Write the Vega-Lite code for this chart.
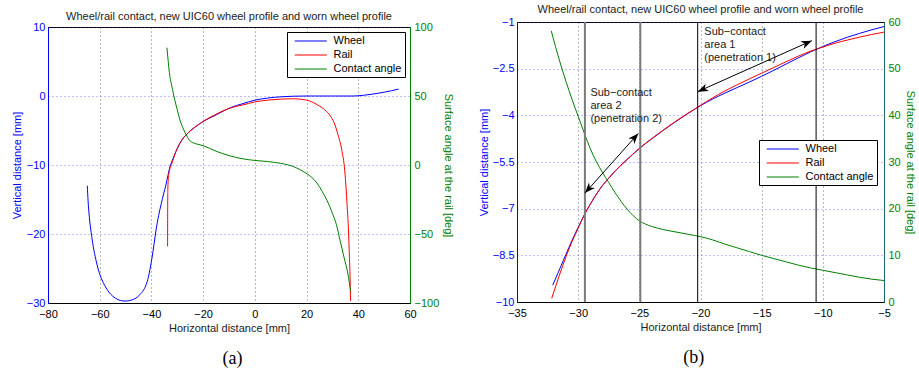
{
  "$schema": "https://vega.github.io/schema/vega-lite/v6.json",
  "background": "white",
  "padding": {"left": 10, "top": 3, "right": 0, "bottom": 0},
  "spacing": 22,
  "config": {
    "font": "Liberation Sans",
    "view": {"stroke": "#000000", "strokeWidth": 1},
    "axis": {"labelFont": "Liberation Sans", "titleFont": "Liberation Sans", "labelFontSize": 11, "titleFontSize": 11, "titleFontWeight": "normal", "ticks": false, "labelPadding": 3, "gridDash": [1, 3], "gridWidth": 1, "domainWidth": 1, "labelFlush": false, "labelBound": false, "labelOverlap": false, "labelExpr": "format(datum.value, '~r')"},
    "title": {"font": "Liberation Sans", "fontSize": 11, "fontWeight": "normal", "color": "#222222"},
    "legend": {"orient": "none", "strokeColor": "#000000", "fillColor": "#ffffff", "padding": 3, "symbolType": "M-0.24,0H5.87", "symbolSize": 110, "symbolStrokeWidth": 1, "labelFont": "Liberation Sans", "labelFontSize": 11, "labelColor": "#000000", "labelOffset": 31.5, "rowPadding": 3, "zindex": 1}
  },
  "resolve": {"scale": {"color": "independent"}, "legend": {"color": "independent"}},
  "datasets": {
    "a_prof": [
      {"series": "Wheel", "x": -64.8, "y": -13}, {"series": "Wheel", "x": -64.5, "y": -15.2}, {"series": "Wheel", "x": -64, "y": -17.6}, {"series": "Wheel", "x": -63.3, "y": -19.8}, {"series": "Wheel", "x": -62.5, "y": -21.8}, {"series": "Wheel", "x": -61.5, "y": -23.7}, {"series": "Wheel", "x": -60.5, "y": -25.2}, {"series": "Wheel", "x": -59.3, "y": -26.5}, {"series": "Wheel", "x": -58, "y": -27.5}, {"series": "Wheel", "x": -56.5, "y": -28.4}, {"series": "Wheel", "x": -55, "y": -29.0}, {"series": "Wheel", "x": -53, "y": -29.5}, {"series": "Wheel", "x": -51, "y": -29.7}, {"series": "Wheel", "x": -49.8, "y": -29.72}, {"series": "Wheel", "x": -48, "y": -29.6}, {"series": "Wheel", "x": -46, "y": -29.3}, {"series": "Wheel", "x": -44.5, "y": -28.8}, {"series": "Wheel", "x": -43, "y": -28.1}, {"series": "Wheel", "x": -42, "y": -27.3}, {"series": "Wheel", "x": -41.2, "y": -26.3}, {"series": "Wheel", "x": -40.5, "y": -25.0}, {"series": "Wheel", "x": -39.8, "y": -23.5}, {"series": "Wheel", "x": -39, "y": -21.5}, {"series": "Wheel", "x": -38.2, "y": -19.4}, {"series": "Wheel", "x": -37.2, "y": -17.3}, {"series": "Wheel", "x": -36.2, "y": -15.6}, {"series": "Wheel", "x": -35.3, "y": -14.2}, {"series": "Wheel", "x": -34.4, "y": -12.9}, {"series": "Wheel", "x": -33.6, "y": -11.5}, {"series": "Wheel", "x": -32.8, "y": -10.2}, {"series": "Wheel", "x": -32, "y": -9.4}, {"series": "Wheel", "x": -31, "y": -8.47}, {"series": "Wheel", "x": -30, "y": -7.6}, {"series": "Wheel", "x": -29, "y": -6.85}, {"series": "Wheel", "x": -28, "y": -6.25}, {"series": "Wheel", "x": -27, "y": -5.8}, {"series": "Wheel", "x": -25, "y": -5.07}, {"series": "Wheel", "x": -22, "y": -4.195}, {"series": "Wheel", "x": -20, "y": -3.69}, {"series": "Wheel", "x": -17, "y": -3.107}, {"series": "Wheel", "x": -15, "y": -2.744}, {"series": "Wheel", "x": -12, "y": -2.151}, {"series": "Wheel", "x": -10, "y": -1.786}, {"series": "Wheel", "x": -7, "y": -1.366}, {"series": "Wheel", "x": -5, "y": -1.146}, {"series": "Wheel", "x": 0, "y": -0.6}, {"series": "Wheel", "x": 5, "y": -0.3}, {"series": "Wheel", "x": 10, "y": -0.12}, {"series": "Wheel", "x": 15, "y": -0.03}, {"series": "Wheel", "x": 20, "y": 0}, {"series": "Wheel", "x": 30, "y": 0}, {"series": "Wheel", "x": 38, "y": 0}, {"series": "Wheel", "x": 42, "y": 0.1}, {"series": "Wheel", "x": 46, "y": 0.3}, {"series": "Wheel", "x": 50, "y": 0.55}, {"series": "Wheel", "x": 55.6, "y": 1.0},
      {"series": "Rail", "x": -33.75, "y": -21.8}, {"series": "Rail", "x": -33.72, "y": -17}, {"series": "Rail", "x": -33.65, "y": -13.5}, {"series": "Rail", "x": -33.4, "y": -11.8}, {"series": "Rail", "x": -32.9, "y": -10.6}, {"series": "Rail", "x": -32.16, "y": -9.88}, {"series": "Rail", "x": -31.5, "y": -9.1}, {"series": "Rail", "x": -31, "y": -8.55}, {"series": "Rail", "x": -30, "y": -7.63}, {"series": "Rail", "x": -29, "y": -6.87}, {"series": "Rail", "x": -28, "y": -6.25}, {"series": "Rail", "x": -27, "y": -5.8}, {"series": "Rail", "x": -25, "y": -5.06}, {"series": "Rail", "x": -22, "y": -4.185}, {"series": "Rail", "x": -20, "y": -3.68}, {"series": "Rail", "x": -17, "y": -3.017}, {"series": "Rail", "x": -15, "y": -2.644}, {"series": "Rail", "x": -12, "y": -2.096}, {"series": "Rail", "x": -10, "y": -1.806}, {"series": "Rail", "x": -7, "y": -1.486}, {"series": "Rail", "x": -5, "y": -1.326}, {"series": "Rail", "x": 0, "y": -0.85}, {"series": "Rail", "x": 5, "y": -0.6}, {"series": "Rail", "x": 10, "y": -0.45}, {"series": "Rail", "x": 15, "y": -0.4}, {"series": "Rail", "x": 20, "y": -0.6}, {"series": "Rail", "x": 24.3, "y": -1.3}, {"series": "Rail", "x": 27, "y": -2.0}, {"series": "Rail", "x": 29.4, "y": -3.0}, {"series": "Rail", "x": 31, "y": -4.2}, {"series": "Rail", "x": 32, "y": -5.4}, {"series": "Rail", "x": 33.6, "y": -7.8}, {"series": "Rail", "x": 34.6, "y": -10.2}, {"series": "Rail", "x": 35.2, "y": -12.9}, {"series": "Rail", "x": 35.7, "y": -16}, {"series": "Rail", "x": 36.1, "y": -18.5}, {"series": "Rail", "x": 36.5, "y": -22.6}, {"series": "Rail", "x": 36.8, "y": -26}, {"series": "Rail", "x": 37, "y": -29.7}
    ],
    "a_ang": [
      {"series": "Contact angle", "x": -34.0, "angle": 85}, {"series": "Contact angle", "x": -33.7, "angle": 79}, {"series": "Contact angle", "x": -33.3, "angle": 71}, {"series": "Contact angle", "x": -32.8, "angle": 63.5}, {"series": "Contact angle", "x": -32.2, "angle": 58}, {"series": "Contact angle", "x": -31.5, "angle": 51.5}, {"series": "Contact angle", "x": -31, "angle": 47.3}, {"series": "Contact angle", "x": -30, "angle": 40}, {"series": "Contact angle", "x": -29, "angle": 32.8}, {"series": "Contact angle", "x": -28, "angle": 27.7}, {"series": "Contact angle", "x": -27, "angle": 23.5}, {"series": "Contact angle", "x": -26, "angle": 19.9}, {"series": "Contact angle", "x": -25, "angle": 17.4}, {"series": "Contact angle", "x": -24, "angle": 16.2}, {"series": "Contact angle", "x": -22, "angle": 15.0}, {"series": "Contact angle", "x": -20, "angle": 14}, {"series": "Contact angle", "x": -15, "angle": 10}, {"series": "Contact angle", "x": -10, "angle": 6.8}, {"series": "Contact angle", "x": -5, "angle": 4.6}, {"series": "Contact angle", "x": 0, "angle": 3.3}, {"series": "Contact angle", "x": 5, "angle": 2.5}, {"series": "Contact angle", "x": 10, "angle": 1.2}, {"series": "Contact angle", "x": 13, "angle": 0}, {"series": "Contact angle", "x": 16, "angle": -2}, {"series": "Contact angle", "x": 19, "angle": -5}, {"series": "Contact angle", "x": 22, "angle": -9}, {"series": "Contact angle", "x": 24, "angle": -13}, {"series": "Contact angle", "x": 26, "angle": -19}, {"series": "Contact angle", "x": 28, "angle": -26}, {"series": "Contact angle", "x": 30, "angle": -35}, {"series": "Contact angle", "x": 31.5, "angle": -43}, {"series": "Contact angle", "x": 33, "angle": -55}, {"series": "Contact angle", "x": 34.5, "angle": -67}, {"series": "Contact angle", "x": 36, "angle": -79}, {"series": "Contact angle", "x": 37, "angle": -91}
    ],
    "b_prof": [
      {"series": "Wheel", "x": -32.08, "y": -9.46}, {"series": "Wheel", "x": -31.5, "y": -8.93}, {"series": "Wheel", "x": -31, "y": -8.47}, {"series": "Wheel", "x": -30.5, "y": -8.02}, {"series": "Wheel", "x": -30, "y": -7.6}, {"series": "Wheel", "x": -29.5, "y": -7.2}, {"series": "Wheel", "x": -29, "y": -6.85}, {"series": "Wheel", "x": -28.5, "y": -6.53}, {"series": "Wheel", "x": -28, "y": -6.25}, {"series": "Wheel", "x": -27.5, "y": -6.02}, {"series": "Wheel", "x": -27, "y": -5.8}, {"series": "Wheel", "x": -26, "y": -5.42}, {"series": "Wheel", "x": -25, "y": -5.07}, {"series": "Wheel", "x": -24, "y": -4.76}, {"series": "Wheel", "x": -23, "y": -4.47}, {"series": "Wheel", "x": -22, "y": -4.195}, {"series": "Wheel", "x": -21, "y": -3.935}, {"series": "Wheel", "x": -20, "y": -3.69}, {"series": "Wheel", "x": -19, "y": -3.475}, {"series": "Wheel", "x": -18, "y": -3.285}, {"series": "Wheel", "x": -17, "y": -3.107}, {"series": "Wheel", "x": -16, "y": -2.929}, {"series": "Wheel", "x": -15, "y": -2.744}, {"series": "Wheel", "x": -14, "y": -2.551}, {"series": "Wheel", "x": -13, "y": -2.351}, {"series": "Wheel", "x": -12, "y": -2.151}, {"series": "Wheel", "x": -11, "y": -1.961}, {"series": "Wheel", "x": -10, "y": -1.786}, {"series": "Wheel", "x": -9, "y": -1.631}, {"series": "Wheel", "x": -8, "y": -1.491}, {"series": "Wheel", "x": -7, "y": -1.366}, {"series": "Wheel", "x": -6, "y": -1.251}, {"series": "Wheel", "x": -5, "y": -1.146},
      {"series": "Rail", "x": -32.16, "y": -9.88}, {"series": "Rail", "x": -31.5, "y": -9.1}, {"series": "Rail", "x": -31, "y": -8.55}, {"series": "Rail", "x": -30.5, "y": -8.06}, {"series": "Rail", "x": -30, "y": -7.63}, {"series": "Rail", "x": -29.5, "y": -7.2}, {"series": "Rail", "x": -29, "y": -6.85}, {"series": "Rail", "x": -28.5, "y": -6.53}, {"series": "Rail", "x": -28, "y": -6.25}, {"series": "Rail", "x": -27.5, "y": -6.02}, {"series": "Rail", "x": -27, "y": -5.8}, {"series": "Rail", "x": -26, "y": -5.42}, {"series": "Rail", "x": -25, "y": -5.06}, {"series": "Rail", "x": -24, "y": -4.75}, {"series": "Rail", "x": -23, "y": -4.46}, {"series": "Rail", "x": -22, "y": -4.185}, {"series": "Rail", "x": -21, "y": -3.925}, {"series": "Rail", "x": -20, "y": -3.68}, {"series": "Rail", "x": -19, "y": -3.435}, {"series": "Rail", "x": -18, "y": -3.215}, {"series": "Rail", "x": -17, "y": -3.017}, {"series": "Rail", "x": -16, "y": -2.829}, {"series": "Rail", "x": -15, "y": -2.644}, {"series": "Rail", "x": -14, "y": -2.461}, {"series": "Rail", "x": -13, "y": -2.276}, {"series": "Rail", "x": -12, "y": -2.096}, {"series": "Rail", "x": -11, "y": -1.936}, {"series": "Rail", "x": -10, "y": -1.806}, {"series": "Rail", "x": -9, "y": -1.681}, {"series": "Rail", "x": -8, "y": -1.581}, {"series": "Rail", "x": -7, "y": -1.486}, {"series": "Rail", "x": -6, "y": -1.401}, {"series": "Rail", "x": -5, "y": -1.326}
    ],
    "b_ang": [
      {"series": "Contact angle", "x": -32.2, "angle": 58.1}, {"series": "Contact angle", "x": -31.5, "angle": 51.5}, {"series": "Contact angle", "x": -31, "angle": 47.3}, {"series": "Contact angle", "x": -30.5, "angle": 43.4}, {"series": "Contact angle", "x": -30, "angle": 39.8}, {"series": "Contact angle", "x": -29.5, "angle": 36.2}, {"series": "Contact angle", "x": -29, "angle": 32.8}, {"series": "Contact angle", "x": -28.5, "angle": 30.0}, {"series": "Contact angle", "x": -28, "angle": 27.7}, {"series": "Contact angle", "x": -27.5, "angle": 25.6}, {"series": "Contact angle", "x": -27, "angle": 23.5}, {"series": "Contact angle", "x": -26.5, "angle": 21.6}, {"series": "Contact angle", "x": -26, "angle": 19.9}, {"series": "Contact angle", "x": -25.5, "angle": 18.5}, {"series": "Contact angle", "x": -25, "angle": 17.4}, {"series": "Contact angle", "x": -24.5, "angle": 16.7}, {"series": "Contact angle", "x": -24, "angle": 16.2}, {"series": "Contact angle", "x": -23, "angle": 15.5}, {"series": "Contact angle", "x": -22, "angle": 15.0}, {"series": "Contact angle", "x": -21, "angle": 14.5}, {"series": "Contact angle", "x": -20, "angle": 14}, {"series": "Contact angle", "x": -19, "angle": 13.3}, {"series": "Contact angle", "x": -18, "angle": 12.4}, {"series": "Contact angle", "x": -17, "angle": 11.6}, {"series": "Contact angle", "x": -16, "angle": 10.8}, {"series": "Contact angle", "x": -15, "angle": 10}, {"series": "Contact angle", "x": -14, "angle": 9.3}, {"series": "Contact angle", "x": -13, "angle": 8.6}, {"series": "Contact angle", "x": -12, "angle": 7.9}, {"series": "Contact angle", "x": -11, "angle": 7.3}, {"series": "Contact angle", "x": -10, "angle": 6.8}, {"series": "Contact angle", "x": -9, "angle": 6.3}, {"series": "Contact angle", "x": -8, "angle": 5.8}, {"series": "Contact angle", "x": -7, "angle": 5.3}, {"series": "Contact angle", "x": -6, "angle": 4.9}, {"series": "Contact angle", "x": -5, "angle": 4.6}
    ],
    "b_bounds": [
      {"x": -29.45, "area": 2}, {"x": -24.92, "area": 2}, {"x": -20.23, "area": 1}, {"x": -10.55, "area": 1}
    ],
    "b_arrows": [
      {"x": -20.23, "y": -3.24, "x2": -10.9, "y2": -1.6},
      {"x": -29.45, "y": -6.5, "x2": -25.08, "y2": -4.58}
    ],
    "b_heads": [
      {"x": -10.9, "y": -1.6, "dir": 335.9}, {"x": -20.23, "y": -3.24, "dir": 155.9},
      {"x": -25.08, "y": -4.58, "dir": 311.8}, {"x": -29.45, "y": -6.5, "dir": 131.8}
    ],
    "b_notes": [
      {"x": -19.69, "y": -1.113, "label": "Sub−contact\narea 1\n(penetration 1)"},
      {"x": -29.0, "y": -3.096, "label": "Sub−contact\narea 2\n(penetration 2)"}
    ]
  },
  "hconcat": [
    {
      "title": {"text": "(a)", "orient": "bottom", "font": "Liberation Serif", "fontSize": 18, "fontWeight": "normal", "color": "#000000", "offset": 16, "anchor": "middle"},
      "resolve": {"scale": {"color": "independent"}, "legend": {"color": "independent"}},
      "spacing": -3,
      "vconcat": [
        {
          "width": 362,
          "height": 1,
          "view": {"stroke": null},
          "title": {"text": "Wheel/rail contact, new UIC60 wheel profile and worn wheel profile", "offset": 0.5, "frame": "group", "anchor": "middle"},
          "data": {"values": []},
          "mark": {"type": "point", "opacity": 0},
          "encoding": {
            "x": {"field": "v", "type": "quantitative", "scale": {"domain": [0, 1]}, "axis": null},
            "y": {"field": "v", "type": "quantitative", "scale": {"domain": [0, 1]}, "axis": null}
          }
        },
        {
          "width": 362,
          "height": 276,
          "resolve": {"scale": {"y": "independent"}},
          "layer": [
            {
              "data": {"name": "a_prof"},
              "mark": {"type": "line", "strokeWidth": 1, "interpolate": "monotone"},
              "encoding": {
                "x": {"field": "x", "type": "quantitative", "scale": {"domain": [-80, 60], "nice": false, "zero": false},
                      "axis": {"values": [-80, -60, -40, -20, 0, 20, 40, 60], "grid": true, "gridColor": "#000000", "gridOpacity": 0.55, "title": "Horizontal distance [mm]", "titleColor": "#222222", "labelColor": "#000000", "domainColor": "#000000", "labelPadding": 5, "titlePadding": 3}},
                "y": {"field": "y", "type": "quantitative", "scale": {"domain": [-30, 10], "nice": false, "zero": false},
                      "axis": {"orient": "left", "values": [-30, -20, -10, 0, 10], "grid": true, "gridColor": "#3333ff", "gridOpacity": 0.6, "labelColor": "#0000ff", "titleColor": "#0000ff", "domainColor": "#0000ff", "title": "Vertical distance [mm]", "titlePadding": 4}},
                "color": {"field": "series", "type": "nominal", "scale": {"domain": ["Wheel", "Rail", "Contact angle"], "range": ["#0000ff", "#ff0000", "#008000"]},
                          "legend": {"title": null, "orient": "none", "legendX": 239, "legendY": 5}}
              }
            },
            {
              "data": {"name": "a_ang"},
              "mark": {"type": "line", "strokeWidth": 1, "interpolate": "monotone"},
              "encoding": {
                "x": {"field": "x", "type": "quantitative", "scale": {"domain": [-80, 60], "nice": false, "zero": false}},
                "y": {"field": "angle", "type": "quantitative", "scale": {"domain": [-100, 100], "nice": false, "zero": false},
                      "axis": {"orient": "right", "values": [-100, -50, 0, 50, 100], "grid": false, "labelColor": "#008000", "titleColor": "#008000", "domainColor": "#008000", "title": "Surface angle at the rail [deg]", "labelPadding": 4, "titlePadding": 4}},
                "color": {"field": "series", "type": "nominal", "scale": {"domain": ["Wheel", "Rail", "Contact angle"], "range": ["#0000ff", "#ff0000", "#008000"]},
                          "legend": {"title": null, "orient": "none", "legendX": 239, "legendY": 5}}
              }
            }
          ]
        }
      ]
    },
    {
      "title": {"text": "(b)", "orient": "bottom", "font": "Liberation Serif", "fontSize": 18, "fontWeight": "normal", "color": "#000000", "offset": 16, "anchor": "middle", "dx": -3},
      "resolve": {"scale": {"color": "independent"}, "legend": {"color": "independent"}},
      "vconcat": [
        {
          "width": 367,
          "height": 280,
          "title": {"text": "Wheel/rail contact, new UIC60 wheel profile and worn wheel profile", "offset": 1, "frame": "group", "anchor": "middle"},
          "resolve": {"scale": {"y": "independent"}},
          "layer": [
            {
              "data": {"name": "b_prof"},
              "mark": {"type": "line", "strokeWidth": 1, "interpolate": "monotone"},
              "encoding": {
                "x": {"field": "x", "type": "quantitative", "scale": {"domain": [-35, -5], "nice": false, "zero": false},
                      "axis": {"values": [-35, -30, -25, -20, -15, -10, -5], "grid": true, "gridColor": "#000000", "gridOpacity": 0.55, "title": "Horizontal distance [mm]", "titleColor": "#222222", "labelColor": "#000000", "domainColor": "#000000", "labelPadding": 5, "titlePadding": 3}},
                "y": {"field": "y", "type": "quantitative", "scale": {"domain": [-10, -1], "nice": false, "zero": false},
                      "axis": {"orient": "left", "values": [-10, -8.5, -7, -5.5, -4, -2.5, -1], "grid": true, "gridColor": "#3333ff", "gridOpacity": 0.6, "labelColor": "#0000ff", "titleColor": "#0000ff", "domainColor": "#0000ff", "title": "Vertical distance [mm]", "titlePadding": 3}},
                "color": {"field": "series", "type": "nominal", "scale": {"domain": ["Wheel", "Rail", "Contact angle"], "range": ["#0000ff", "#ff0000", "#008000"]},
                          "legend": {"title": null, "orient": "none", "legendX": 242, "legendY": 118}}
              }
            },
            {
              "data": {"name": "b_ang"},
              "mark": {"type": "line", "strokeWidth": 1, "interpolate": "monotone"},
              "encoding": {
                "x": {"field": "x", "type": "quantitative", "scale": {"domain": [-35, -5], "nice": false, "zero": false}},
                "y": {"field": "angle", "type": "quantitative", "scale": {"domain": [0, 60], "nice": false, "zero": false},
                      "axis": {"orient": "right", "values": [0, 10, 20, 30, 40, 50, 60], "grid": false, "labelColor": "#008000", "titleColor": "#008000", "domainColor": "#1e6375", "title": "Surface angle at the rail [deg]", "labelPadding": 4, "titlePadding": 4}},
                "color": {"field": "series", "type": "nominal", "scale": {"domain": ["Wheel", "Rail", "Contact angle"], "range": ["#0000ff", "#ff0000", "#008000"]},
                          "legend": {"title": null, "orient": "none", "legendX": 242, "legendY": 118}}
              }
            },
            {
              "data": {"name": "b_bounds"},
              "transform": [{"filter": "datum.area == 2"}],
              "mark": {"type": "rule", "color": "#7a7a7a", "strokeWidth": 2},
              "encoding": {
                "x": {"field": "x", "type": "quantitative", "scale": {"domain": [-35, -5], "nice": false, "zero": false}}
              }
            },
            {
              "data": {"name": "b_bounds"},
              "transform": [{"filter": "datum.area == 1"}],
              "mark": {"type": "rule", "color": "#000000", "strokeWidth": 1},
              "encoding": {
                "x": {"field": "x", "type": "quantitative", "scale": {"domain": [-35, -5], "nice": false, "zero": false}}
              }
            },
            {
              "data": {"name": "b_arrows"},
              "mark": {"type": "rule", "color": "#000000", "strokeWidth": 1},
              "encoding": {
                "x": {"field": "x", "type": "quantitative", "scale": {"domain": [-35, -5], "nice": false, "zero": false}},
                "y": {"field": "y", "type": "quantitative", "scale": {"domain": [-10, -1], "nice": false, "zero": false}, "axis": null},
                "x2": {"field": "x2"},
                "y2": {"field": "y2"}
              }
            },
            {
              "data": {"name": "b_heads"},
              "mark": {"type": "point", "filled": true, "color": "#000000", "opacity": 1, "size": 450, "shape": "M0,0L-1,-0.38L-0.72,0L-1,0.38Z"},
              "encoding": {
                "x": {"field": "x", "type": "quantitative", "scale": {"domain": [-35, -5], "nice": false, "zero": false}},
                "y": {"field": "y", "type": "quantitative", "scale": {"domain": [-10, -1], "nice": false, "zero": false}, "axis": null},
                "angle": {"field": "dir", "type": "quantitative", "scale": null}
              }
            },
            {
              "data": {"name": "b_notes"},
              "mark": {"type": "text", "align": "left", "baseline": "top", "fontSize": 11, "lineHeight": 13, "lineBreak": "\n", "color": "#1a1a1a", "font": "Liberation Sans"},
              "encoding": {
                "x": {"field": "x", "type": "quantitative", "scale": {"domain": [-35, -5], "nice": false, "zero": false}},
                "y": {"field": "y", "type": "quantitative", "scale": {"domain": [-10, -1], "nice": false, "zero": false}, "axis": null},
                "text": {"field": "label"}
              }
            }
          ]
        }
      ]
    }
  ]
}
